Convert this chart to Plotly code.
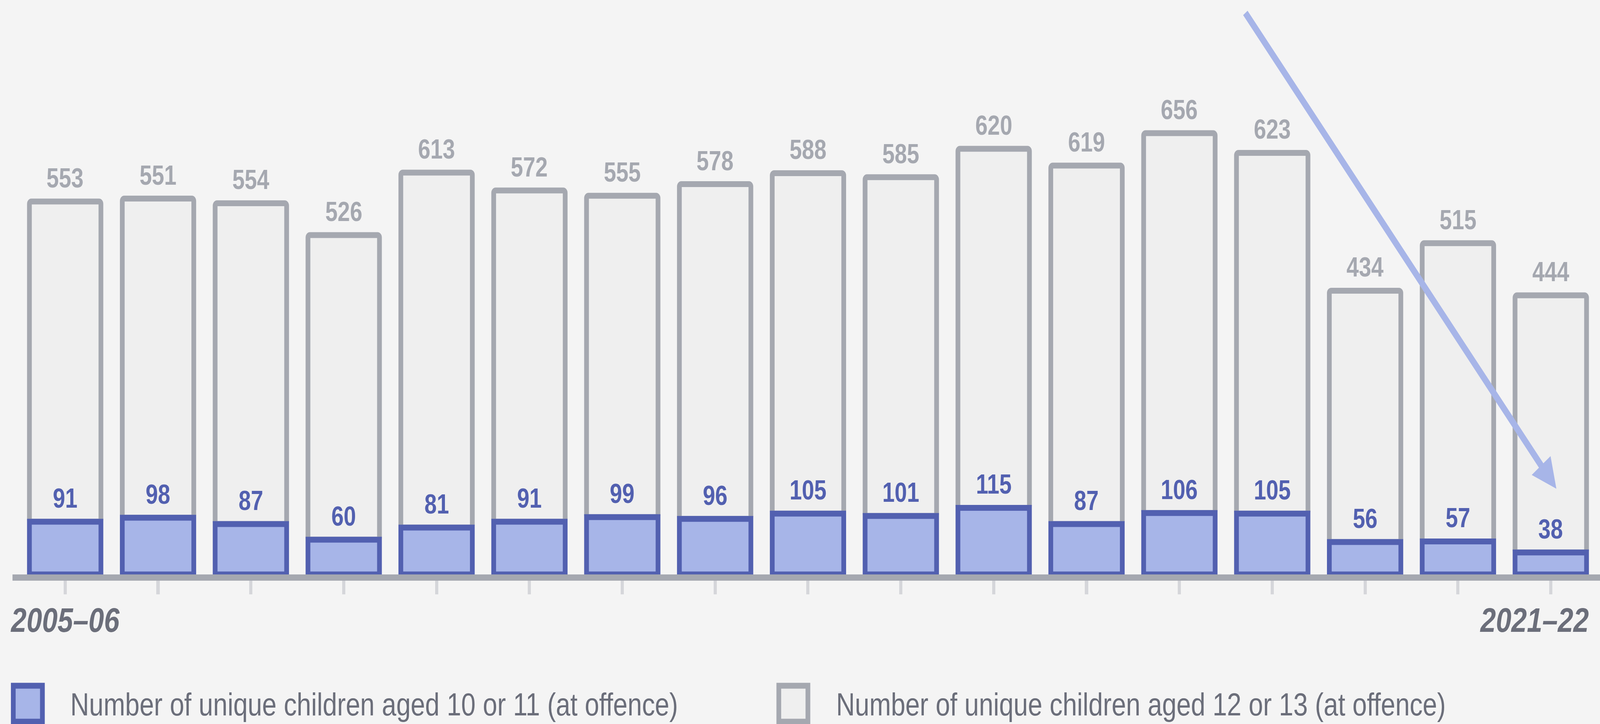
import plotly.graph_objects as go

years = ["2005–06", "2006–07", "2007–08", "2008–09", "2009–10", "2010–11", "2011–12",
         "2012–13", "2013–14", "2014–15", "2015–16", "2016–17", "2017–18", "2018–19",
         "2019–20", "2020–21", "2021–22"]
aged_10_11 = [91, 98, 87, 60, 81, 91, 99, 96, 105, 101, 115, 87, 106, 105, 56, 57, 38]
aged_12_13 = [553, 551, 554, 526, 613, 572, 555, 578, 588, 585, 620, 619, 656, 623, 434, 515, 444]
legend_labels = ["Number of unique children aged 10 or 11 (at offence)",
                 "Number of unique children aged 12 or 13 (at offence)"]

W, H = 5056, 1854
ML, MR, MT, MB = 39, 0, 0, 383
PW, PH = W - ML - MR, H - MT - MB

BG = "#f4f4f4"
GREY_LINE = "#a5a8b0"
GREY_FILL = "#efefef"
BLUE_LINE = "#5260b0"
BLUE_FILL = "#a7b5e8"
TEXT = "#6b6e7a"
FONT = "Liberation Sans, Arial, sans-serif"

totals = [a + b for a, b in zip(aged_10_11, aged_12_13)]

fig = go.Figure()
fig.add_trace(go.Bar(
    x=years, y=aged_12_13, base=aged_10_11, name=legend_labels[1],
    marker=dict(color=GREY_FILL, line=dict(color=GREY_LINE, width=15), cornerradius=6),
))
fig.add_trace(go.Bar(
    x=years, y=aged_10_11, name=legend_labels[0],
    marker=dict(color=BLUE_FILL, line=dict(color=BLUE_LINE, width=15), cornerradius=6),
))

annotations = []
for yr, v, t, g in zip(years, aged_10_11, totals, aged_12_13):
    annotations.append(dict(x=yr, y=t, text=str(g), showarrow=False, yanchor="middle",
                            yshift=60, font=dict(family=FONT, size=70, color=GREY_LINE, weight="bold")))
    annotations.append(dict(x=yr, y=v, text=str(v), showarrow=False, yanchor="middle",
                            yshift=60, font=dict(family=FONT, size=70, color=BLUE_LINE, weight="bold")))

tick_font = dict(family=FONT, size=88, color=TEXT, weight="bold", style="italic")
annotations.append(dict(x=years[0], y=0, yref="paper", text=years[0], showarrow=False,
                        xanchor="center", yanchor="middle", yshift=-116, font=tick_font))
annotations.append(dict(x=years[-1], y=0, yref="paper", text=years[-1], showarrow=False,
                        xanchor="right", yanchor="middle", xshift=123, yshift=-116, font=tick_font))

# trend arrow
annotations.append(dict(x=16.06, y=148, xref="x", yref="y", text="", showarrow=True,
                        ax=-984, ay=-1220, arrowhead=2, arrowsize=0.85, arrowwidth=18,
                        arrowcolor=BLUE_FILL, standoff=0))


def px_x(px):
    return (px - ML) / PW


def px_y(py):
    return (H - MB - py) / PH


shapes = []
legend_items = [(42, 134, 220, BLUE_FILL, BLUE_LINE, legend_labels[0]),
                (2461, 2553, 2640, GREY_FILL, GREY_LINE, legend_labels[1])]
for x0, x1, tx, fill, line, label in legend_items:
    shapes.append(dict(type="rect", xref="paper", yref="paper",
                       x0=px_x(x0), x1=px_x(x1), y0=px_y(1756), y1=px_y(1848),
                       fillcolor=fill, line=dict(color=line, width=15), layer="above"))
    annotations.append(dict(x=px_x(tx), y=px_y(1803), xref="paper", yref="paper", text=label,
                            showarrow=False, xanchor="left", yanchor="middle",
                            font=dict(family=FONT, size=82, color=TEXT)))

fig.update_layout(
    width=W, height=H,
    margin=dict(l=ML, r=MR, t=MT, b=MB),
    paper_bgcolor=BG, plot_bgcolor=BG,
    barmode="overlay", bargap=0.23,
    showlegend=False,
    annotations=annotations,
    shapes=shapes,
    xaxis=dict(type="category", range=[-0.569, 16.53], showgrid=False, zeroline=False,
               showline=True, linecolor=GREY_LINE, linewidth=16,
               ticks="outside", ticklen=35, tickwidth=10, tickcolor="#d5d6da",
               showticklabels=False, fixedrange=True),
    yaxis=dict(range=[0, 992], visible=False, showgrid=False, zeroline=False, fixedrange=True),
)

# Fit the fixed-size figure into the browser viewport (display only).
post = """
(function(){
  var gd = document.getElementById('{plot_id}');
  document.documentElement.style.margin = '0';
  document.body.style.margin = '0';
  document.documentElement.style.background = '%s';
  document.body.style.background = '%s';
  var vw = window.innerWidth, vh = window.innerHeight;
  var sx = vw / %d, sy = vh / %d;
  if (Math.abs(sx - 1) > 0.001 || Math.abs(sy - 1) > 0.001) {
    var wrap = gd.parentElement;
    wrap.style.width = vw + 'px';
    wrap.style.height = vh + 'px';
    wrap.style.overflow = 'hidden';
    gd.style.transformOrigin = '0 0';
    gd.style.transform = 'scale(' + sx + ',' + sy + ')';
  }
  document.documentElement.style.overflow = 'hidden';
  document.body.style.overflow = 'hidden';
})();
""" % (BG, BG, W, H)

fig.write_html("out.html", post_script=post, config={"displayModeBar": False, "staticPlot": True})
